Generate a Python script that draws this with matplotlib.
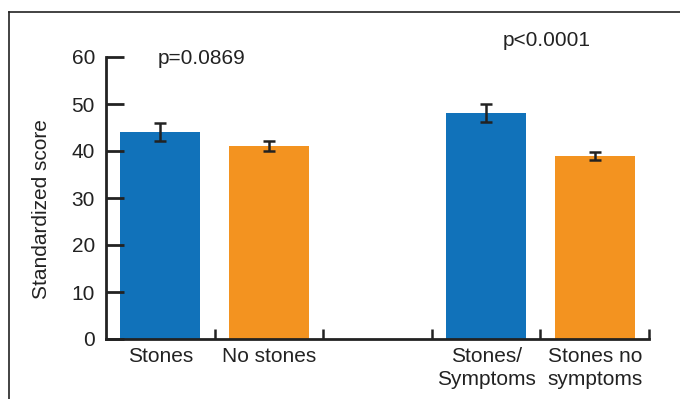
import matplotlib.pyplot as plt
from matplotlib.lines import Line2D

plt.rcParams["font.family"] = ["Liberation Sans", "DejaVu Sans"]

categories = ["Stones", "No stones", "Stones/\nSymptoms", "Stones no\nsymptoms"]
positions = [0, 1, 3, 4]
scores = [44, 41, 48, 39]
errors = [1.9, 1.1, 1.9, 0.85]
colors = ["#1172BA", "#F39320", "#1172BA", "#F39320"]
p_labels = ["p=0.0869", "p<0.0001"]

fig = plt.figure(figsize=(6.8, 3.99), dpi=100)
ax = fig.add_axes([106 / 680, 1 - 339 / 399, (649 - 106) / 680, (339 - 57) / 399])

ax.bar(positions, scores, width=0.74, color=colors)
ax.errorbar(positions, scores, yerr=errors, fmt="none", ecolor="#222222",
            elinewidth=1.8, capsize=4, capthick=1.8)

ax.set_xlim(-0.5, 4.5)
ax.set_ylim(0, 60)
ax.set_yticks([0, 10, 20, 30, 40, 50, 60])
ax.set_xticks(positions)
ax.set_xticklabels(categories, fontsize=15, linespacing=1.25, color="#222222")
ax.set_xticks([0.5, 1.5, 2.5, 3.5, 4.5], minor=True)
ax.tick_params(axis="x", which="major", length=0, pad=6)
ax.tick_params(axis="x", which="minor", direction="in", length=7, width=1.8, color="#222222")
ax.tick_params(axis="y", direction="in", length=13, width=2, color="#222222",
               labelsize=15, pad=8, labelcolor="#222222")

for s in ["top", "right"]:
    ax.spines[s].set_visible(False)
for s in ["left", "bottom"]:
    ax.spines[s].set_linewidth(2)
    ax.spines[s].set_color("#222222")

fig.text(42 / 680, 1 - 209 / 399, "Standardized score", rotation=90,
         fontsize=15, ha="center", va="center", color="#222222")
fig.text(202 / 680, 1 - 58 / 399, p_labels[0], fontsize=15, ha="center", va="center",
         color="#222222")
fig.text(547 / 680, 1 - 41 / 399, p_labels[1], fontsize=15, ha="center", va="center",
         color="#222222")

# outer frame
fig.add_artist(Line2D([9 / 680, 1], [1 - 12 / 399, 1 - 12 / 399], color="#222222", lw=1.2))
fig.add_artist(Line2D([9 / 680, 9 / 680], [0, 1 - 12 / 399], color="#222222", lw=1.2))

plt.savefig("out.png", dpi=100)
